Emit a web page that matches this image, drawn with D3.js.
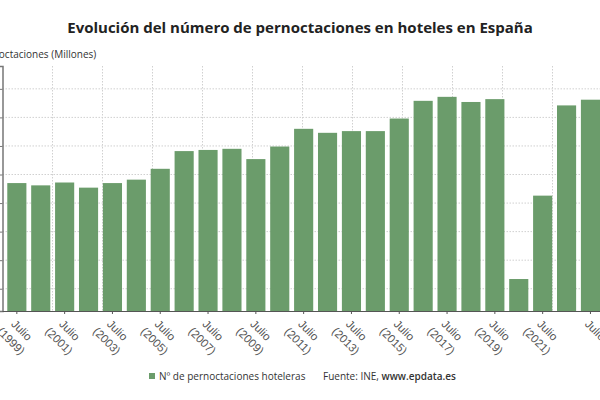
<!DOCTYPE html>
<html lang="es">
<head>
    <meta charset="UTF-8">
    <title>Pernoctaciones en hoteles</title>
    <script src="https://d3js.org/d3.v7.min.js"></script>
    <style>
        * {
            margin: 0;
            padding: 0;
            box-sizing: border-box;
        }

        html, body {
            width: 600px;
            height: 400px;
            overflow: hidden;
            background: #fff;
        }

        svg {
            display: block;
            font-family: "Open Sans", sans-serif;
        }
    </style>
</head>
<body>
<svg id="chart" width="600" height="400"></svg>
<script>
    // July of each year, hotel overnight stays (millions)
    const years = [ "1999", "2000", "2001", "2002", "2003", "2004", "2005", "2006", "2007",
        "2008", "2009", "2010", "2011", "2012", "2013", "2014", "2015", "2016", "2017",
        "2018", "2019", "2020", "2021", "2022", "2023" ]
    const nights = [ 23.5, 23.1, 23.6, 22.7, 23.5, 24.1, 26.0, 29.1, 29.3,
        29.5, 27.7, 29.9, 33.0, 32.3, 32.6, 32.6, 34.8, 37.9, 38.6,
        37.7, 38.2, 6.7, 21.3, 37.1, 38.1 ]
    const yTicks = [ 5, 10, 15, 20, 25, 30, 35, 40 ]
    // only every second year gets a tick; the last one is cut in the original
    const tickYears = [ "1999", "2001", "2003", "2005", "2007", "2009", "2011",
        "2013", "2015", "2017", "2019", "2021", "2023" ]
    const tickLabels = tickYears.map(y => y === "2023" ? [ "Julio" ] : [ "Julio", `(${y})` ])

    const svg = d3.select("#chart")
    const mLeft = 2.5, mRight = 604.8, mTop = 66, mBottom = 311

    const x = d3.scaleBand()
        .domain(years)
        .range([ mLeft, mRight ])
        .paddingInner(0.2)
        .paddingOuter(0.2)

    const y = d3.scaleLinear()
        .domain([ 1.1, 44 ])
        .range([ mBottom, mTop ])

    // background grid (vertical lines are a fixed lattice in the original)
    const gx = d3.scaleLinear().domain([ 0, 12 ]).range([ mLeft, mLeft + 600 ])
    svg.append("g")
        .selectAll("line")
        .data(d3.range(1, 12))
        .join("line")
        .attr("x1", d => gx(d))
        .attr("x2", d => gx(d))
        .attr("y1", mTop)
        .attr("y2", mBottom)
        .attr("stroke", "#d0d0d0")
        .attr("stroke-dasharray", "1.5,1.5")

    svg.append("g")
        .selectAll("line")
        .data(yTicks)
        .join("line")
        .attr("x1", mLeft)
        .attr("x2", 600)
        .attr("y1", d => y(d))
        .attr("y2", d => y(d))
        .attr("stroke", "#d0d0d0")
        .attr("stroke-dasharray", "1.5,1.5")

    svg.append("g")
        .selectAll("rect")
        .data(nights)
        .join("rect")
        .attr("x", (_, i) => x(years[i]))
        .attr("width", x.bandwidth())
        .attr("y", d => y(d))
        .attr("height", d => mBottom - y(d))
        .attr("fill", "#6b9c6b")

    // y axis (labels fall outside the crop)
    const yAxis = svg.append("g")
        .attr("transform", `translate(${mLeft},0)`)
        .call(d3.axisLeft(y).tickValues(yTicks).tickSize(3).tickFormat(""))
    yAxis.select(".domain").attr("stroke", "#777").attr("stroke-width", 1.5)
    yAxis.selectAll(".tick line").attr("stroke", "#777")

    const xAxis = svg.append("g")
        .attr("transform", `translate(0,${mBottom})`)
        .call(d3.axisBottom(x).tickValues(tickYears).tickSize(3).tickFormat(""))
    xAxis.select(".domain").attr("stroke", "#555").attr("d", `M${mLeft},0.5H600`)
    xAxis.selectAll(".tick line").attr("stroke", "#555")

    xAxis.selectAll(".tick")
        .data(tickLabels)
        .append("text")
        .attr("transform", "translate(0,3) rotate(45)")
        .attr("text-anchor", "middle")
        .attr("fill", "#555")
        .attr("font-size", 11.5)
        .selectAll("tspan")
        .data(d => d)
        .join("tspan")
        .attr("x", 15)
        .attr("y", (_, i) => 12 + i * 15)
        .text(d => d)

    svg.append("text")
        .attr("x", 300)
        .attr("y", 33)
        .attr("text-anchor", "middle")
        .attr("font-size", 15)
        .attr("font-weight", 700)
        .attr("fill", "#222")
        .text("Evolución del número de pernoctaciones en hoteles en España")

    svg.append("text")
        .attr("x", -23)
        .attr("y", 58)
        .attr("font-size", 10)
        .attr("fill", "#333")
        .text("Pernoctaciones (Millones)")

    // legend + source
    const legend = svg.append("g").attr("transform", "translate(149,376)")
    legend.append("rect")
        .attr("x", 0)
        .attr("y", -3)
        .attr("width", 6)
        .attr("height", 6)
        .attr("fill", "#6b9c6b")
    legend.append("text")
        .attr("x", 10)
        .attr("dy", "0.35em")
        .attr("font-size", 10)
        .attr("fill", "#333")
        .text("Nº de pernoctaciones hoteleras")
    const src = legend.append("text")
        .attr("x", 174)
        .attr("dy", "0.35em")
        .attr("font-size", 10)
        .attr("fill", "#333")
    src.append("tspan").text("Fuente: INE, ")
    src.append("tspan").attr("font-weight", 600).text("www.epdata.es")
</script>
</body>
</html>
